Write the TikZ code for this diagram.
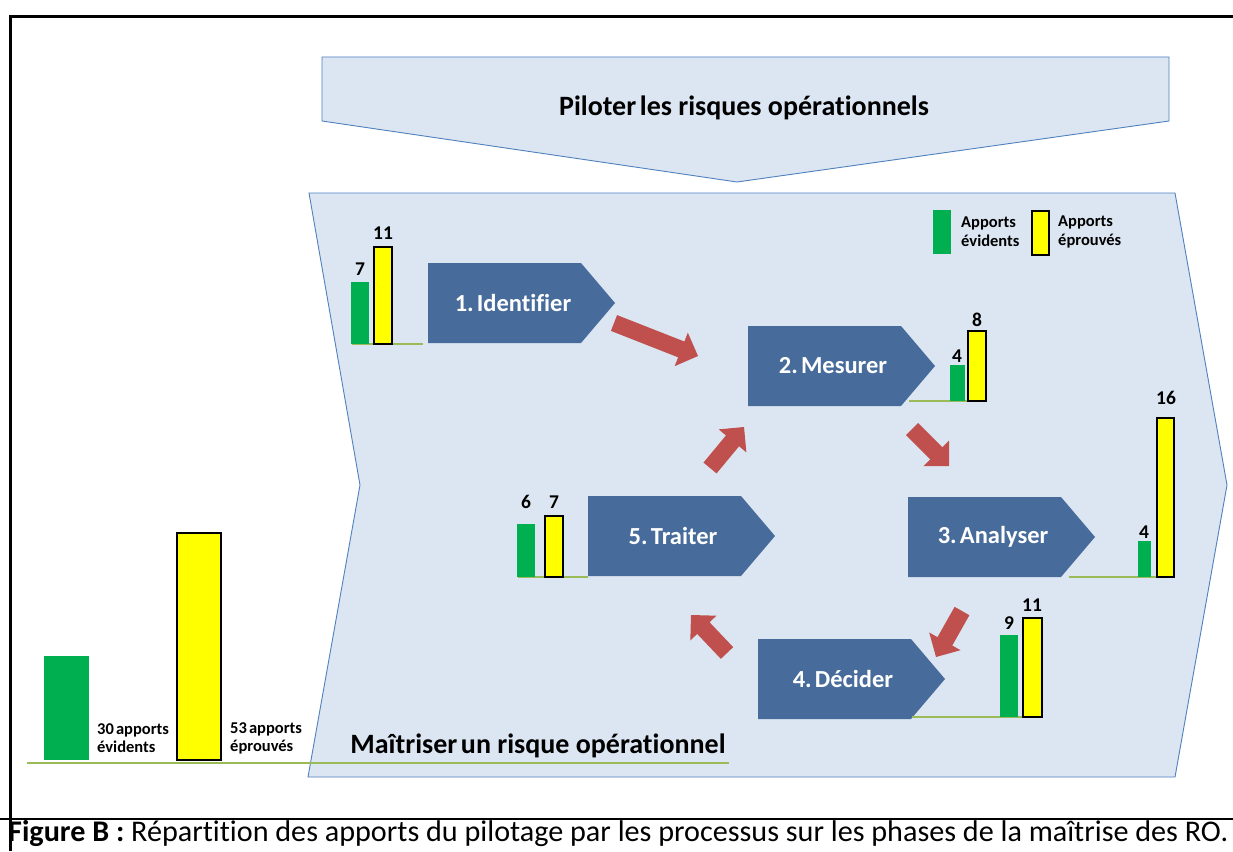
\documentclass[tikz,border=0pt]{standalone}
\usepackage{fontspec}
\setmainfont{Carlito}[Ligatures=NoCommon]
\usetikzlibrary{calc}

\definecolor{paleblue}{RGB}{220,230,242}
\definecolor{edgeblue}{RGB}{79,129,189}
\definecolor{procblue}{RGB}{71,108,155}
\definecolor{arrowred}{RGB}{192,80,77}
\definecolor{bargreen}{RGB}{0,176,80}
\definecolor{baryellow}{RGB}{255,255,0}
\definecolor{baseline}{RGB}{155,187,89}

% pentagon process box: #1 name, #2 left, #3 top, #4 label
\newcommand\procbox[4]{%
  \fill[procblue] (#2,#3) -- ++(153,0) -- ++(34,40) -- ++(-34,40) -- ++(-153,0) -- cycle;
  \node[proclabel] (#1) at ({#2+85},{#3+40}) {#4};}

% block arrow from a tail coordinate to a tip coordinate
\newcommand\redarrow[3]{%
  \coordinate (#1b) at ($(#3)!18pt!(#2)$);
  \fill[arrowred] ($(#2)!8.5pt!90:(#3)$) -- ($(#1b)!8.5pt!90:(#3)$)
    -- ($(#1b)!18pt!90:(#3)$) -- (#3) -- ($(#1b)!18pt!-90:(#3)$)
    -- ($(#1b)!8.5pt!-90:(#3)$) -- ($(#2)!8.5pt!-90:(#3)$) -- cycle;}

\newcommand\tightsp{\hspace{0.13em}}

\tikzset{
  proclabel/.style={text=white, font=\fontsize{24.5}{27}\selectfont\bfseries, inner sep=0pt},
  num/.style={font=\fontsize{19.5}{21}\selectfont\bfseries, inner sep=0pt},
  small/.style={font=\fontsize{16.5}{18}\selectfont\bfseries, align=left, inner sep=0pt, anchor=west},
  legtext/.style={font=\fontsize{16.5}{19}\selectfont\bfseries, align=left, inner sep=0pt, anchor=west},
  heading/.style={font=\fontsize{28}{30}\selectfont\bfseries, inner sep=0pt},
  gbar/.style={fill=bargreen},
  ybar/.style={fill=baryellow, draw=black, line width=1.2pt},
  base/.style={draw=baseline, line width=1.3pt},
  chevron/.style={fill=paleblue, draw=edgeblue, line width=0.9pt},
}

\begin{document}
\begin{tikzpicture}[x=1pt,y=-1pt]
\useasboundingbox (0,0) rectangle (1233,851);
\fill[white] (0,0) rectangle (1233,851);

% frame
\draw[line width=3pt] (10,851) -- (10,17) -- (1233,17);
\draw[line width=2pt] (0,819) -- (1233,819);

% steering banner (points down)
\path[chevron] (322,57) -- (1169,57) -- (1169,121) -- (737,182) -- (322,121) -- cycle;
\node[heading] (pilot) at (744,108) {Piloter\tightsp les risques opérationnels};

% control chevron (points right)
\path[chevron] (309,193) -- (1175,193) -- (1227,485) -- (1175,777) -- (308,777) -- (360,485) -- cycle;

% overall totals
\draw[base] (27,763) -- (729,763);
\fill[gbar] (44,656) rectangle (89,760);
\filldraw[ybar] (177,533) rectangle (221,760);
\node[small] (tot1) at (97,738) {30\tightsp apports\\évidents};
\node[small] (tot2) at (230,738) {53\tightsp apports\\éprouvés};
\node[heading] (maitr) at (538,746) {Maîtriser\tightsp un risque opérationnel};

% legend
\fill[gbar] (933,210) rectangle (951,254);
\filldraw[ybar] (1032,211) rectangle (1049,255);
\node[legtext] (leg1) at (961,232) {Apports\\évidents};
\node[legtext] (leg2) at (1058,232) {Apports\\éprouvés};

% process steps
\procbox{p1}{428}{263}{1.\tightsp Identifier}
\procbox{p2}{748}{326}{2.\tightsp Mesurer}
\procbox{p3}{908}{497}{3.\tightsp Analyser}
\procbox{p5}{588}{496}{5.\tightsp Traiter}
\procbox{p4}{758}{639}{4.\tightsp Décider}

% step 1 bars
\draw[base] (352,344) -- (423,344);
\fill[gbar] (351,282) rectangle (369,344);
\filldraw[ybar] (374,247) rectangle (392,344);
\node[num] (n1a) at (360,269) {7};
\node[num] (n1b) at (383,233) {11};

% step 2 bars
\draw[base] (909,401) -- (986,401);
\fill[gbar] (950,365) rectangle (965,401);
\filldraw[ybar] (968,331) rectangle (986,401);
\node[num] (n2a) at (957,356) {4};
\node[num] (n2b) at (977,320) {8};

% step 3 bars
\draw[base] (1069,577) -- (1175,577);
\fill[gbar] (1138,541) rectangle (1151,577);
\filldraw[ybar] (1157,418) rectangle (1174,577);
\node[num] (n3a) at (1144,532) {4};
\node[num] (n3b) at (1166,398) {16};

% step 5 bars
\draw[base] (518,577) -- (588,577);
\fill[gbar] (517,524) rectangle (535,577);
\filldraw[ybar] (545,516) rectangle (563,577);
\node[num] (n5a) at (526,502) {6};
\node[num] (n5b) at (554,502) {7};

% step 4 bars
\draw[base] (912,717) -- (1024,717);
\fill[gbar] (1000,635) rectangle (1018,717);
\filldraw[ybar] (1023,618) rectangle (1042,717);
\node[num] (n4a) at (1009,623) {9};
\node[num] (n4b) at (1032,605) {11};

% cycle arrows
\coordinate (a1t) at (614,323); \coordinate (a1h) at (698,356);
\coordinate (a2t) at (912,429); \coordinate (a2h) at (949,466);
\coordinate (a3t) at (962,611); \coordinate (a3h) at (936,657);
\coordinate (a4t) at (727,653); \coordinate (a4h) at (691,615);
\coordinate (a5t) at (710,468); \coordinate (a5h) at (744,427);
\redarrow{a1}{a1t}{a1h}
\redarrow{a2}{a2t}{a2h}
\redarrow{a3}{a3t}{a3h}
\redarrow{a4}{a4t}{a4h}
\redarrow{a5}{a5t}{a5h}

% caption
\node[anchor=west, inner sep=0pt] (cap) at (8,834)
  {\resizebox{1220pt}{\height}{\fontsize{30}{32}\selectfont\textbf{Figure B :} Répartition des apports du pilotage par les processus sur les phases de la maîtrise des RO.}};
\end{tikzpicture}
\end{document}
